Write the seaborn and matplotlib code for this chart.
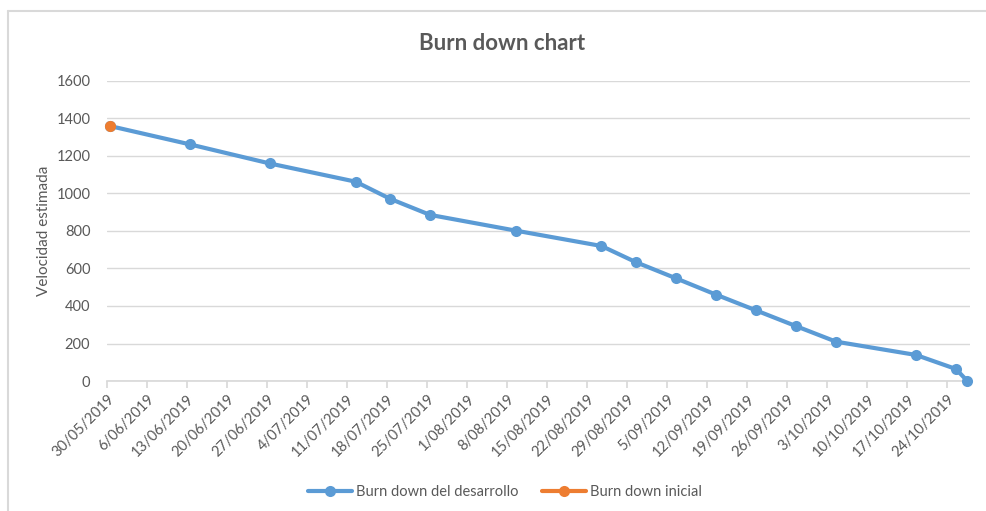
import seaborn as sns
import matplotlib.pyplot as plt
from matplotlib.lines import Line2D
import pandas as pd

fechas = ["2019-05-30", "2019-06-13", "2019-06-27", "2019-07-12", "2019-07-18",
          "2019-07-25", "2019-08-09", "2019-08-24", "2019-08-30", "2019-09-06",
          "2019-09-13", "2019-09-20", "2019-09-27", "2019-10-04", "2019-10-18",
          "2019-10-25", "2019-10-27"]
desarrollo = [1360, 1262, 1160, 1063, 972, 886, 802, 720, 634, 548, 461, 377,
              293, 210, 139, 64, 0]
fechas_inicial = ["2019-05-30"]
inicial = [1360]

azul = "#5b9bd5"
naranja = "#ed7d31"
gris = "#595959"

# Excel date axis: each day sits in the middle of its slot
df = pd.DataFrame({"Fecha": pd.to_datetime(fechas) + pd.Timedelta(hours=12),
                   "Valor": desarrollo})
df_ini = pd.DataFrame({"Fecha": pd.to_datetime(fechas_inicial) + pd.Timedelta(hours=12),
                       "Valor": inicial})

sns.set_theme(style="white")
plt.rcParams["font.family"] = ["Lato", "DejaVu Sans"]

fig, ax = plt.subplots(figsize=(9.87, 5.11), dpi=100)
fig.subplots_adjust(left=0.1084, right=0.983, top=0.8415, bottom=0.2544)

sns.lineplot(data=df, x="Fecha", y="Valor", ax=ax, color=azul, linewidth=3,
             marker="o", markersize=8, markeredgewidth=0,
             label="Burn down del desarrollo", clip_on=False, zorder=3)
sns.lineplot(data=df_ini, x="Fecha", y="Valor", ax=ax, color=naranja, linewidth=3,
             marker="o", markersize=8, markeredgewidth=0,
             label="Burn down inicial", clip_on=False, zorder=4)

ax.set_ylim(0, 1600)
ax.set_yticks(range(0, 1601, 200))
ticks = pd.date_range("2019-05-30", "2019-10-24", freq="7D")
ax.set_xticks(ticks)
ax.set_xticklabels([f"{d.day}/{d.month:02d}/{d.year}" for d in ticks],
                   rotation=45, ha="right", rotation_mode="anchor")
ax.set_xlim(pd.Timestamp("2019-05-30"), pd.Timestamp("2019-10-28"))

ax.grid(axis="y", color="#d9d9d9", linewidth=1)
ax.set_axisbelow(True)
for s in ["top", "right", "left"]:
    ax.spines[s].set_visible(False)
ax.spines["bottom"].set_color("#d9d9d9")
ax.tick_params(axis="x", bottom=True, length=5, color="#d9d9d9", labelsize=10.5,
               labelcolor=gris, pad=3)
ax.tick_params(axis="y", left=False, labelsize=10.5, labelcolor=gris, pad=6)

ax.set_xlabel("")
ax.set_ylabel("Velocidad estimada", fontsize=11, color=gris, labelpad=4)

fig.text(0.509, 0.915, "Burn down chart", ha="center", va="center",
         fontsize=16, fontweight="bold", color=gris)

ax.legend(loc="center", bbox_to_anchor=(0.512, 0.037), bbox_transform=fig.transFigure,
          ncol=2, frameon=False, fontsize=10.5, labelcolor=gris, handlelength=3,
          columnspacing=1.6, handletextpad=0.3)

# chart border
fig.add_artist(Line2D([0.0086, 0.0086], [0, 0.978], color="#d9d9d9", linewidth=1.5,
                      transform=fig.transFigure))
fig.add_artist(Line2D([0.0086, 1], [0.978, 0.978], color="#d9d9d9", linewidth=1.5,
                      transform=fig.transFigure))

plt.savefig("out.png", dpi=100)
